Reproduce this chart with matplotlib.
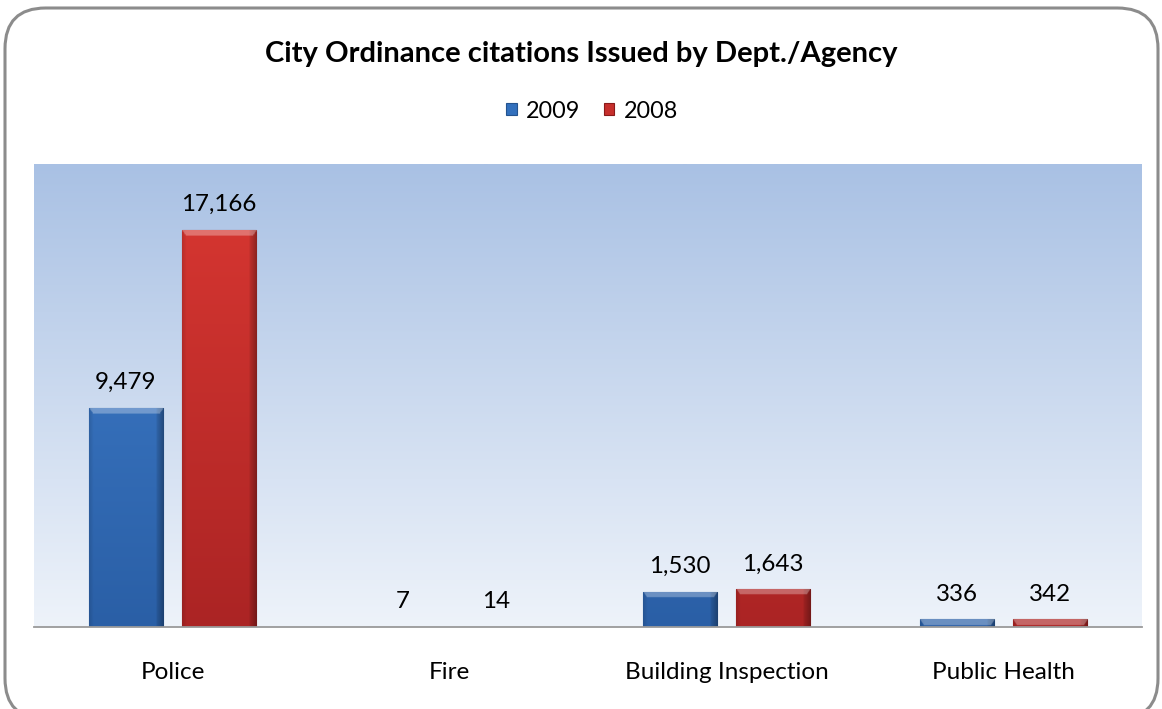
import numpy as np
import matplotlib
matplotlib.use("Agg")
from matplotlib import pyplot as plt
from matplotlib.patches import FancyBboxPatch
from matplotlib.colors import to_rgb, LinearSegmentedColormap

categories = ["Police", "Fire", "Building Inspection", "Public Health"]
series_names = ["2009", "2008"]
values_2009 = [9479, 7, 1530, 336]
values_2008 = [17166, 14, 1643, 342]

plt.rcParams['font.family'] = ['Lato', 'DejaVu Sans']

BLUE = "#3270bd"
RED = "#c62f2c"
# top / bottom shades for the bar gradients
BLUE_TB = ("#3f7dcb", "#2a5fa6")
RED_TB = ("#d63631", "#ab2424")


def shaded_bar(ax, rect, tb):
    """paint a bevel-ish gradient on top of a bar and clip it to the bar"""
    x0 = rect.get_x()
    w = rect.get_width()
    h = rect.get_height()
    if h <= 0:
        return
    ctop = np.array(to_rgb(tb[0]))
    cbot = np.array(to_rgb(tb[1]))
    nx, ny = 120, 300
    xs = np.linspace(0, 1, nx)
    px_per_unit = ax.transData.transform((0, 1))[1] - ax.transData.transform((0, 0))[1]
    bar_px = h * px_per_unit
    # vertical gradient (in pixels so short bars look like the top of tall ones)
    ypx = np.linspace(bar_px, 0, ny)
    t = np.clip(1 - ypx / 420.0, 0, 1)
    col = ctop[None, :] * (1 - t[:, None]) + cbot[None, :] * t[:, None]
    img = np.repeat(col[:, None, :], nx, axis=1)
    # darker edges left and right
    fx = np.ones(nx)
    fx = np.where(xs > 0.9, 0.93 - (xs - 0.9) * 2.6, fx)
    fx = np.where(xs < 0.06, 0.88 + xs * 2.0, fx)
    img = img * fx[None, :, None]
    # top bevel highlight with sloped corners
    bev = 6.0
    depth = bar_px - ypx
    xpx = xs * w * 110 / 0.27
    edge = np.minimum(xpx, xpx.max() - xpx)
    mask = (depth[:, None] < bev) & (depth[:, None] < edge[None, :] + 0.5)
    img[mask] = img[mask] * 0.7 + 0.3
    img = np.clip(img, 0, 1)
    im = ax.imshow(img, extent=(x0, x0 + w, 0, h), aspect="auto",
                   interpolation="bilinear", zorder=3)
    im.set_clip_path(rect)


fig = plt.figure(figsize=(11.62, 7.09), dpi=100)

# rounded outer frame
frame = FancyBboxPatch((5 / 1162, -10 / 709), 1153 / 1162, 711 / 709,
                       boxstyle="round,pad=0,rounding_size=0.035",
                       transform=fig.transFigure, facecolor="none",
                       edgecolor="#8c8c8c", linewidth=2.2, zorder=-1,
                       mutation_aspect=1162 / 709)
fig.patches.append(frame)

ax = fig.add_axes([34 / 1162, 1 - 627 / 709, 1108 / 1162, 463 / 709])
ax.set_facecolor("none")

# blue-to-white background gradient
grad = LinearSegmentedColormap.from_list("bg", ["#eef3fa", "#a9c1e4"])
ax.imshow(np.linspace(0, 1, 256)[:, None], extent=(0, 1, 0, 1),
          transform=ax.transAxes, cmap=grad, origin="lower",
          aspect="auto", zorder=0)

x = np.arange(len(categories))
bw = 0.27
off = 0.168
bars09 = ax.bar(x - off, values_2009, bw, color=BLUE, edgecolor="#24538f",
                linewidth=0.8, zorder=2, label=series_names[0])
bars08 = ax.bar(x + off, values_2008, bw, color=RED, edgecolor="#8a1a1a",
                linewidth=0.8, zorder=2, label=series_names[1])

ax.set_xlim(-0.5, len(categories) - 0.5)
ax.set_ylim(0, 20000)

for r in bars09:
    shaded_bar(ax, r, BLUE_TB)
for r in bars08:
    shaded_bar(ax, r, RED_TB)

for bars, vals in ((bars09, values_2009), (bars08, values_2008)):
    for r, v in zip(bars, vals):
        ax.annotate(f"{v:,}", (r.get_x() + r.get_width() / 2, v),
                    xytext=(0, 18), textcoords="offset points",
                    ha="center", va="center", fontsize=17.4, color="black",
                    zorder=5)

for s in ["top", "left", "right"]:
    ax.spines[s].set_visible(False)
ax.spines["bottom"].set_color("#9a9a9a")
ax.spines["bottom"].set_linewidth(1.3)
ax.spines["bottom"].set_zorder(6)
ax.set_yticks([])
ax.set_xticks(x)
ax.set_xticklabels(categories, fontsize=17.5)
ax.tick_params(axis="x", length=0, pad=25)

fig.text(0.5, 1 - 54 / 709, "City Ordinance citations Issued by Dept./Agency",
         ha="center", va="center", fontsize=21, fontweight="bold")

leg = fig.legend(handles=[bars09, bars08], labels=series_names,
                 loc="center", bbox_to_anchor=(592 / 1162, 1 - 111 / 709),
                 ncol=2, frameon=False, fontsize=16.8, handlelength=0.45,
                 handleheight=0.45, handletextpad=0.4, columnspacing=1.0)

fig.savefig("out.png", dpi=100)
